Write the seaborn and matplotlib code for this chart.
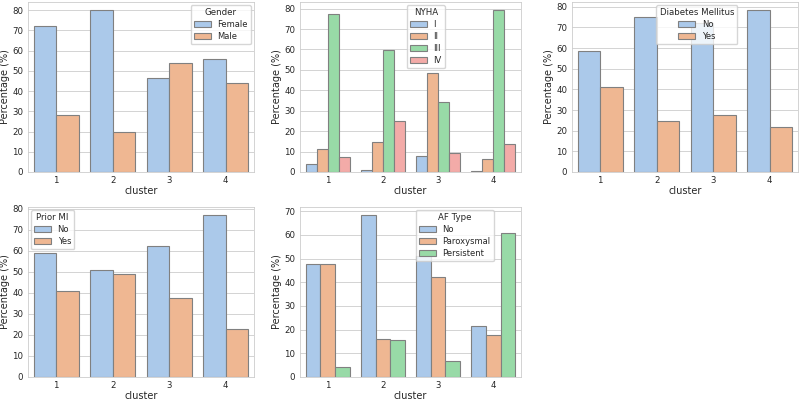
import matplotlib
matplotlib.use("Agg")
import matplotlib.pyplot as plt
import seaborn as sns
import pandas as pd

clusters = ["1", "2", "3", "4"]

gender_levels = ["Female", "Male"]
gender_female = [72.0, 80.0, 46.2, 56.0]
gender_male = [28.0, 20.0, 53.8, 44.0]

nyha_levels = ["I", "II", "III", "IV"]
nyha_I = [4.0, 0.9, 7.7, 0.5]
nyha_II = [11.5, 14.7, 48.7, 6.5]
nyha_III = [77.4, 59.8, 34.5, 79.3]
nyha_IV = [7.3, 24.8, 9.2, 13.8]

dm_levels = ["No", "Yes"]
dm_no = [58.6, 75.1, 72.2, 78.4]
dm_yes = [41.4, 24.9, 27.8, 21.6]

mi_levels = ["No", "Yes"]
mi_no = [59.0, 51.0, 62.5, 77.0]
mi_yes = [41.0, 49.0, 37.5, 23.0]

af_levels = ["No", "Paroxysmal", "Persistent"]
af_no = [47.8, 68.4, 51.0, 21.4]
af_parox = [47.8, 16.0, 42.3, 17.8]
af_persist = [4.4, 15.6, 6.7, 60.8]


def make_df(levels, series):
    rows = []
    for lvl, vals in zip(levels, series):
        for c, v in zip(clusters, vals):
            rows.append({"cluster": c, "level": lvl, "pct": v})
    return pd.DataFrame(rows)


panels = [
    ("Gender", gender_levels, [gender_female, gender_male], dict(loc="upper right")),
    ("NYHA", nyha_levels, [nyha_I, nyha_II, nyha_III, nyha_IV], dict(loc="upper left", bbox_to_anchor=(0.47, 1.0))),
    ("Diabetes Mellitus", dm_levels, [dm_no, dm_yes], dict(loc="upper left", bbox_to_anchor=(0.36, 1.0))),
    ("Prior MI", mi_levels, [mi_no, mi_yes], dict(loc="upper left")),
    ("AF Type", af_levels, [af_no, af_parox, af_persist], dict(loc="upper left", bbox_to_anchor=(0.51, 1.0))),
]

sns.set_theme(style="whitegrid")
plt.rcParams["font.family"] = ["DejaVu Sans"]
fs_tick = 6.2
fs_label = 7.0
fs_leg = 6.0
fs_legtitle = 6.2

W, H = 800.0, 401.0
col_px = [(28, 254), (300, 521), (572, 798)]
row_px = [(2, 172), (207, 377)]

fig, axes = plt.subplots(2, 3, figsize=(8.0, 4.01), dpi=100)
for r in range(2):
    for c in range(3):
        x0, x1 = col_px[c]
        y0, y1 = row_px[r]
        axes[r, c].set_position([x0 / W, 1 - y1 / H, (x1 - x0) / W, (y1 - y0) / H])
axes = axes.ravel()
for ax, (title, levels, series, legkw) in zip(axes, panels):
    df = make_df(levels, series)
    sns.barplot(data=df, x="cluster", y="pct", hue="level", order=clusters,
                hue_order=levels, palette="pastel", edgecolor="0.5",
                linewidth=0.8, ax=ax)
    ax.set_xlabel("cluster", fontsize=fs_label, labelpad=0.5)
    ax.set_ylabel("Percentage (%)", fontsize=fs_label, labelpad=1.5)
    ax.tick_params(axis="x", labelsize=fs_tick, length=0, pad=3.0)
    ax.tick_params(axis="y", labelsize=fs_tick, length=0, pad=3.5)
    ax.yaxis.grid(True, linewidth=0.6)
    ax.xaxis.grid(False)
    for sp in ax.spines.values():
        sp.set_linewidth(0.6)
    ax.legend(title=title, fontsize=fs_leg, title_fontsize=fs_legtitle,
              handlelength=2.0, handleheight=0.7, borderpad=0.4,
              labelspacing=0.35, borderaxespad=0.35, **legkw)
axes[5].axis("off")
fig.savefig("out.png", dpi=100)
